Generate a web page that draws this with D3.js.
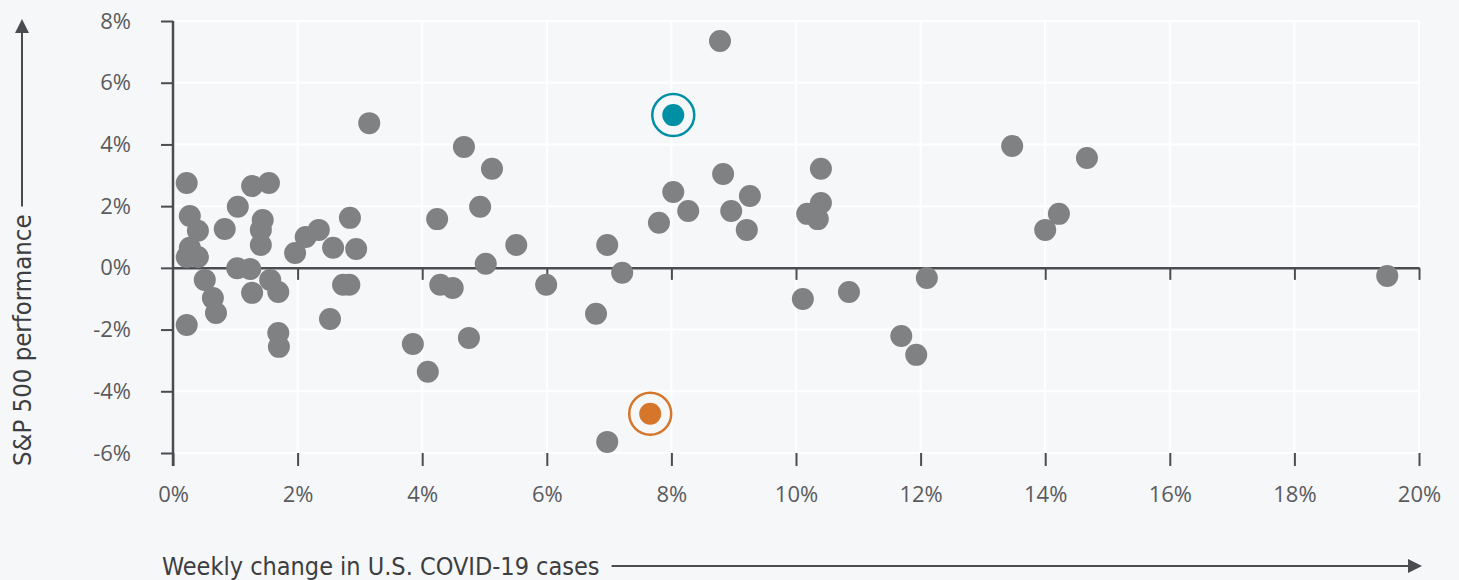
<!DOCTYPE html>
<html>
<head>
<meta charset="utf-8">
<script src="https://cdn.jsdelivr.net/npm/d3@7"></script>
<style>
  html, body { margin: 0; padding: 0; background: #f6f7f9; }
  svg { display: block; }
</style>
</head>
<body>
<svg id="chart" width="1459" height="580"></svg>
<script>
// ---- data ----
const caseChange = [0.22,0.27,0.40,0.27,0.22,0.40,0.51,0.64,0.69,0.22,0.83,1.04,1.03,1.24,1.27,1.54,1.44,1.41,1.41,1.27,1.56,1.69,1.69,1.70,1.96,2.13,2.34,2.57,2.52,2.73,2.83,2.84,2.94,3.15,3.85,4.09,4.24,4.29,4.49,4.67,4.75,4.93,5.12,5.02,5.51,5.99,6.79,6.97,7.21,6.97,7.80,8.03,8.27,8.78,8.83,8.96,9.26,9.21,10.11,10.18,10.35,10.40,10.40,10.85,11.69,11.93,12.10,13.47,14.00,14.22,14.67,19.49];
const spxPerf = [2.75,1.68,1.20,0.65,0.35,0.35,-0.39,-0.98,-1.46,-1.85,1.26,1.98,-0.01,-0.04,2.65,2.75,1.55,1.23,0.74,-0.81,-0.39,-0.78,-2.11,-2.56,0.48,1.00,1.23,0.65,-1.66,-0.55,-0.55,1.62,0.61,4.69,-2.47,-3.37,1.58,-0.55,-0.65,3.92,-2.27,1.98,3.21,0.13,0.74,-0.55,-1.49,0.74,-0.16,-5.64,1.46,2.46,1.84,7.35,3.04,1.84,2.33,1.23,-1.01,1.75,1.58,2.10,3.21,-0.78,-2.21,-2.82,-0.33,3.95,1.23,1.75,3.56,-0.26];
const highlightX = [8.03, 7.66];
const highlightY = [4.95, -4.73];
const highlightColors = ["#0090a6", "#d5762b"];
const xTicks = [0,2,4,6,8,10,12,14,16,18,20];
const yTicks = [-6,-4,-2,0,2,4,6,8];
const xTickLabels = xTicks.map(d => d + "%");
const yTickLabels = yTicks.map(d => d + "%");
const xTitle = "Weekly change in U.S. COVID-19 cases";
const yTitle = "S&P 500 performance";

// ---- layout ----
const svg = d3.select("#chart");
const pLeft = 173, pRight = 1419, pTop = 21, pBottom = 453;
const x = d3.scaleLinear().domain([0, 20]).range([pLeft, pRight]);
const y = d3.scaleLinear().domain([-6, 8]).range([pBottom, pTop]);
const axisColor = "#4b4c50";
const textColor = "#5a5b5e";
const tickFont = "'Open Sans', 'Noto Sans', sans-serif";
const titleFont = "'Liberation Sans Narrow', 'DejaVu Sans Condensed', sans-serif";

// grid
const grid = svg.append("g");
grid.selectAll("line.v").data(xTicks.slice(1)).join("line")
  .attr("x1", d => x(d)).attr("x2", d => x(d))
  .attr("y1", pTop).attr("y2", pBottom)
  .attr("stroke", "#ffffff").attr("stroke-width", 2);
grid.selectAll("line.h").data(yTicks).join("line")
  .attr("x1", pLeft).attr("x2", pRight)
  .attr("y1", d => y(d)).attr("y2", d => y(d))
  .attr("stroke", "#ffffff").attr("stroke-width", 2);

// y axis
const yAxis = d3.axisLeft(y).tickValues(yTicks).tickFormat((d, i) => yTickLabels[i])
  .tickSize(12).tickPadding(30).tickSizeOuter(0);
const gy = svg.append("g").attr("transform", `translate(${pLeft},0)`).call(yAxis);
gy.select(".domain").attr("d", `M0,${pTop}V${pBottom + 13}`).attr("stroke", axisColor).attr("stroke-width", 2.5);
gy.selectAll(".tick line").attr("stroke", axisColor).attr("stroke-width", 2);
gy.selectAll(".tick text").attr("fill", textColor).style("font-family", tickFont).style("font-size", "22px");

// zero line with ticks
const zeroAxis = d3.axisBottom(x).tickValues(xTicks.slice(1)).tickFormat("").tickSize(12).tickSizeOuter(0);
const gz = svg.append("g").attr("transform", `translate(0,${y(0)})`).call(zeroAxis);
gz.select(".domain").attr("stroke", axisColor).attr("stroke-width", 2.5);
gz.selectAll(".tick line").attr("stroke", axisColor).attr("stroke-width", 2);

// bottom ticks + labels
const xAxis = d3.axisBottom(x).tickValues(xTicks).tickFormat((d, i) => xTickLabels[i])
  .tickSize(13).tickPadding(20);
const gx = svg.append("g").attr("transform", `translate(0,${pBottom})`).call(xAxis);
gx.select(".domain").remove();
gx.selectAll(".tick line").attr("stroke", axisColor).attr("stroke-width", 2);
gx.selectAll(".tick text").attr("fill", textColor).style("font-family", tickFont).style("font-size", "22px");

// points
svg.append("g").selectAll("circle").data(caseChange.map((d, i) => [d, spxPerf[i]])).join("circle")
  .attr("cx", d => x(d[0])).attr("cy", d => y(d[1])).attr("r", 11)
  .attr("fill", "#808183");

// highlighted points
const hl = svg.append("g").selectAll("g").data(highlightX.map((d, i) => [d, highlightY[i], highlightColors[i]])).join("g");
hl.append("circle").attr("cx", d => x(d[0])).attr("cy", d => y(d[1])).attr("r", 21)
  .attr("fill", "none").attr("stroke", d => d[2]).attr("stroke-width", 2.5);
hl.append("circle").attr("cx", d => x(d[0])).attr("cy", d => y(d[1])).attr("r", 11)
  .attr("fill", d => d[2]);

// axis titles with arrows
const defs = svg.append("defs");
defs.append("marker").attr("id", "arrow").attr("viewBox", "0 0 10 10")
  .attr("refX", 0).attr("refY", 5).attr("markerWidth", 14).attr("markerHeight", 14)
  .attr("markerUnits", "userSpaceOnUse").attr("orient", "auto")
  .append("path").attr("d", "M0,0L10,5L0,10Z").attr("fill", axisColor);

const xt = svg.append("text").attr("x", 162).attr("y", 575)
  .attr("fill", "#3d3e41").style("font-family", titleFont).style("font-size", "25px")
  .text(xTitle);
const xtw = xt.node().getComputedTextLength();
svg.append("line").attr("x1", 162 + xtw + 12).attr("x2", 1408).attr("y1", 566).attr("y2", 566)
  .attr("stroke", axisColor).attr("stroke-width", 2).attr("marker-end", "url(#arrow)");

const yt = svg.append("text").attr("transform", "translate(31,466) rotate(-90)")
  .attr("fill", "#3d3e41").style("font-family", titleFont).style("font-size", "25.5px")
  .text(yTitle);
const ytw = yt.node().getComputedTextLength();
svg.append("line").attr("x1", 22).attr("x2", 22).attr("y1", 466 - ytw - 8).attr("y2", 33)
  .attr("stroke", axisColor).attr("stroke-width", 2).attr("marker-end", "url(#arrow)");
</script>
</body>
</html>
